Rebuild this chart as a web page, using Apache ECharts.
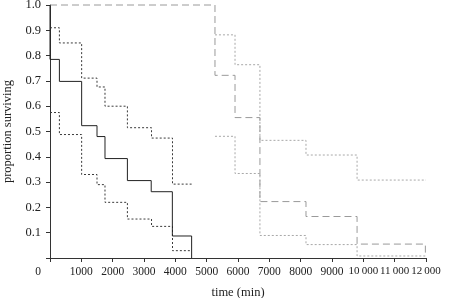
<!DOCTYPE html>
<html>
<head>
<meta charset="utf-8">
<script src="https://cdn.jsdelivr.net/npm/echarts@6/dist/echarts.min.js"></script>
<style>
  html, body { margin: 0; padding: 0; background: #fff; }
  #chart { width: 449px; height: 298px; }
</style>
</head>
<body>
<div id="chart"></div>
<script>
// group 1 (black): Kaplan-Meier estimate and confidence bounds
const blackTimes = [0, 0, 300, 1010, 1500, 1755, 2470, 3230, 3905, 4520]
const blackSurv = [1.0, 0.785, 0.698, 0.523, 0.48, 0.393, 0.306, 0.262, 0.087, 0]
const blackCiTimes = [0, 300, 1010, 1500, 1755, 2470, 3240, 3910, 4520]
const blackUpper = [0.91, 0.85, 0.711, 0.676, 0.6, 0.515, 0.474, 0.292, 0.292]
const blackLower = [0.575, 0.488, 0.33, 0.29, 0.22, 0.154, 0.125, 0.029, 0.029]

// group 2 (grey)
const greyTimes = [0, 5265, 5905, 6700, 8170, 9800, 11980]
const greySurv = [1.0, 0.722, 0.555, 0.223, 0.164, 0.055, 0.02]
const greyCiTimes = [5265, 5905, 6700, 8170, 9800, 12000]
const greyUpper = [0.882, 0.764, 0.465, 0.407, 0.308, 0.308]
const greyLower = [0.481, 0.334, 0.089, 0.053, 0.008, 0.008]

const pair = (xs, ys) => xs.map((x, i) => [x, ys[i]])

const stepLine = (data, color, type) => ({
  type: 'line',
  step: 'end',
  data,
  symbol: 'none',
  clip: false,
  lineStyle: { color, width: 1, type },
  silent: true
})

const chart = echarts.init(document.getElementById('chart'))

chart.setOption({
  animation: false,
  textStyle: { fontFamily: 'Liberation Serif' },
  grid: { left: 50, right: 23, top: 5, bottom: 40, containLabel: false, outerBoundsMode: 'none' },
  xAxis: {
    type: 'value',
    min: 0,
    max: 12000,
    interval: 1000,
    name: 'time (min)',
    nameLocation: 'middle',
    nameGap: 28,
    nameTextStyle: { color: '#222', fontSize: 12.5, fontFamily: 'Liberation Serif' },
    axisLine: { lineStyle: { color: '#333', width: 1 } },
    axisTick: { length: 4, lineStyle: { color: '#333' } },
    splitLine: { show: false },
    axisLabel: {
      color: '#222',
      fontSize: 11.5,
      margin: 8,
      fontFamily: 'Liberation Serif',
      formatter: v => {
        if (v === 0) return '{z|0}'
        if (v >= 10000) return '{b|' + Math.floor(v / 1000) + '\u2009000}'
        return String(v)
      },
      rich: {
        z: { fontSize: 11.5, padding: [0, 24, 0, 0], fontFamily: 'Liberation Serif', color: '#222' },
        b: { fontSize: 11, fontFamily: 'Liberation Serif', color: '#222' }
      }
    }
  },
  yAxis: {
    type: 'value',
    min: 0,
    max: 1,
    interval: 0.1,
    name: 'proportion surviving',
    nameLocation: 'middle',
    nameGap: 33,
    nameTextStyle: { color: '#222', fontSize: 12.5, fontFamily: 'Liberation Serif' },
    axisLine: { show: true, lineStyle: { color: '#333', width: 1 } },
    axisTick: { show: true, length: 4, lineStyle: { color: '#333' } },
    splitLine: { show: false },
    axisLabel: {
      color: '#222',
      fontSize: 12.5,
      margin: 9,
      fontFamily: 'Liberation Serif',
      formatter: v => (v < 0.05 ? '' : v.toFixed(1))
    }
  },
  series: [
    stepLine(pair(greyTimes, greySurv), '#9a9a9a', [7, 4]),
    stepLine(pair(greyCiTimes, greyUpper), '#a8a8a8', [2, 2]),
    stepLine(pair(greyCiTimes, greyLower), '#a8a8a8', [2, 2]),
    stepLine(pair(blackCiTimes, blackUpper), '#3a3a3a', [2, 2]),
    stepLine(pair(blackCiTimes, blackLower), '#3a3a3a', [2, 2]),
    stepLine(pair(blackTimes, blackSurv), '#222', 'solid')
  ]
})
</script>
</body>
</html>
